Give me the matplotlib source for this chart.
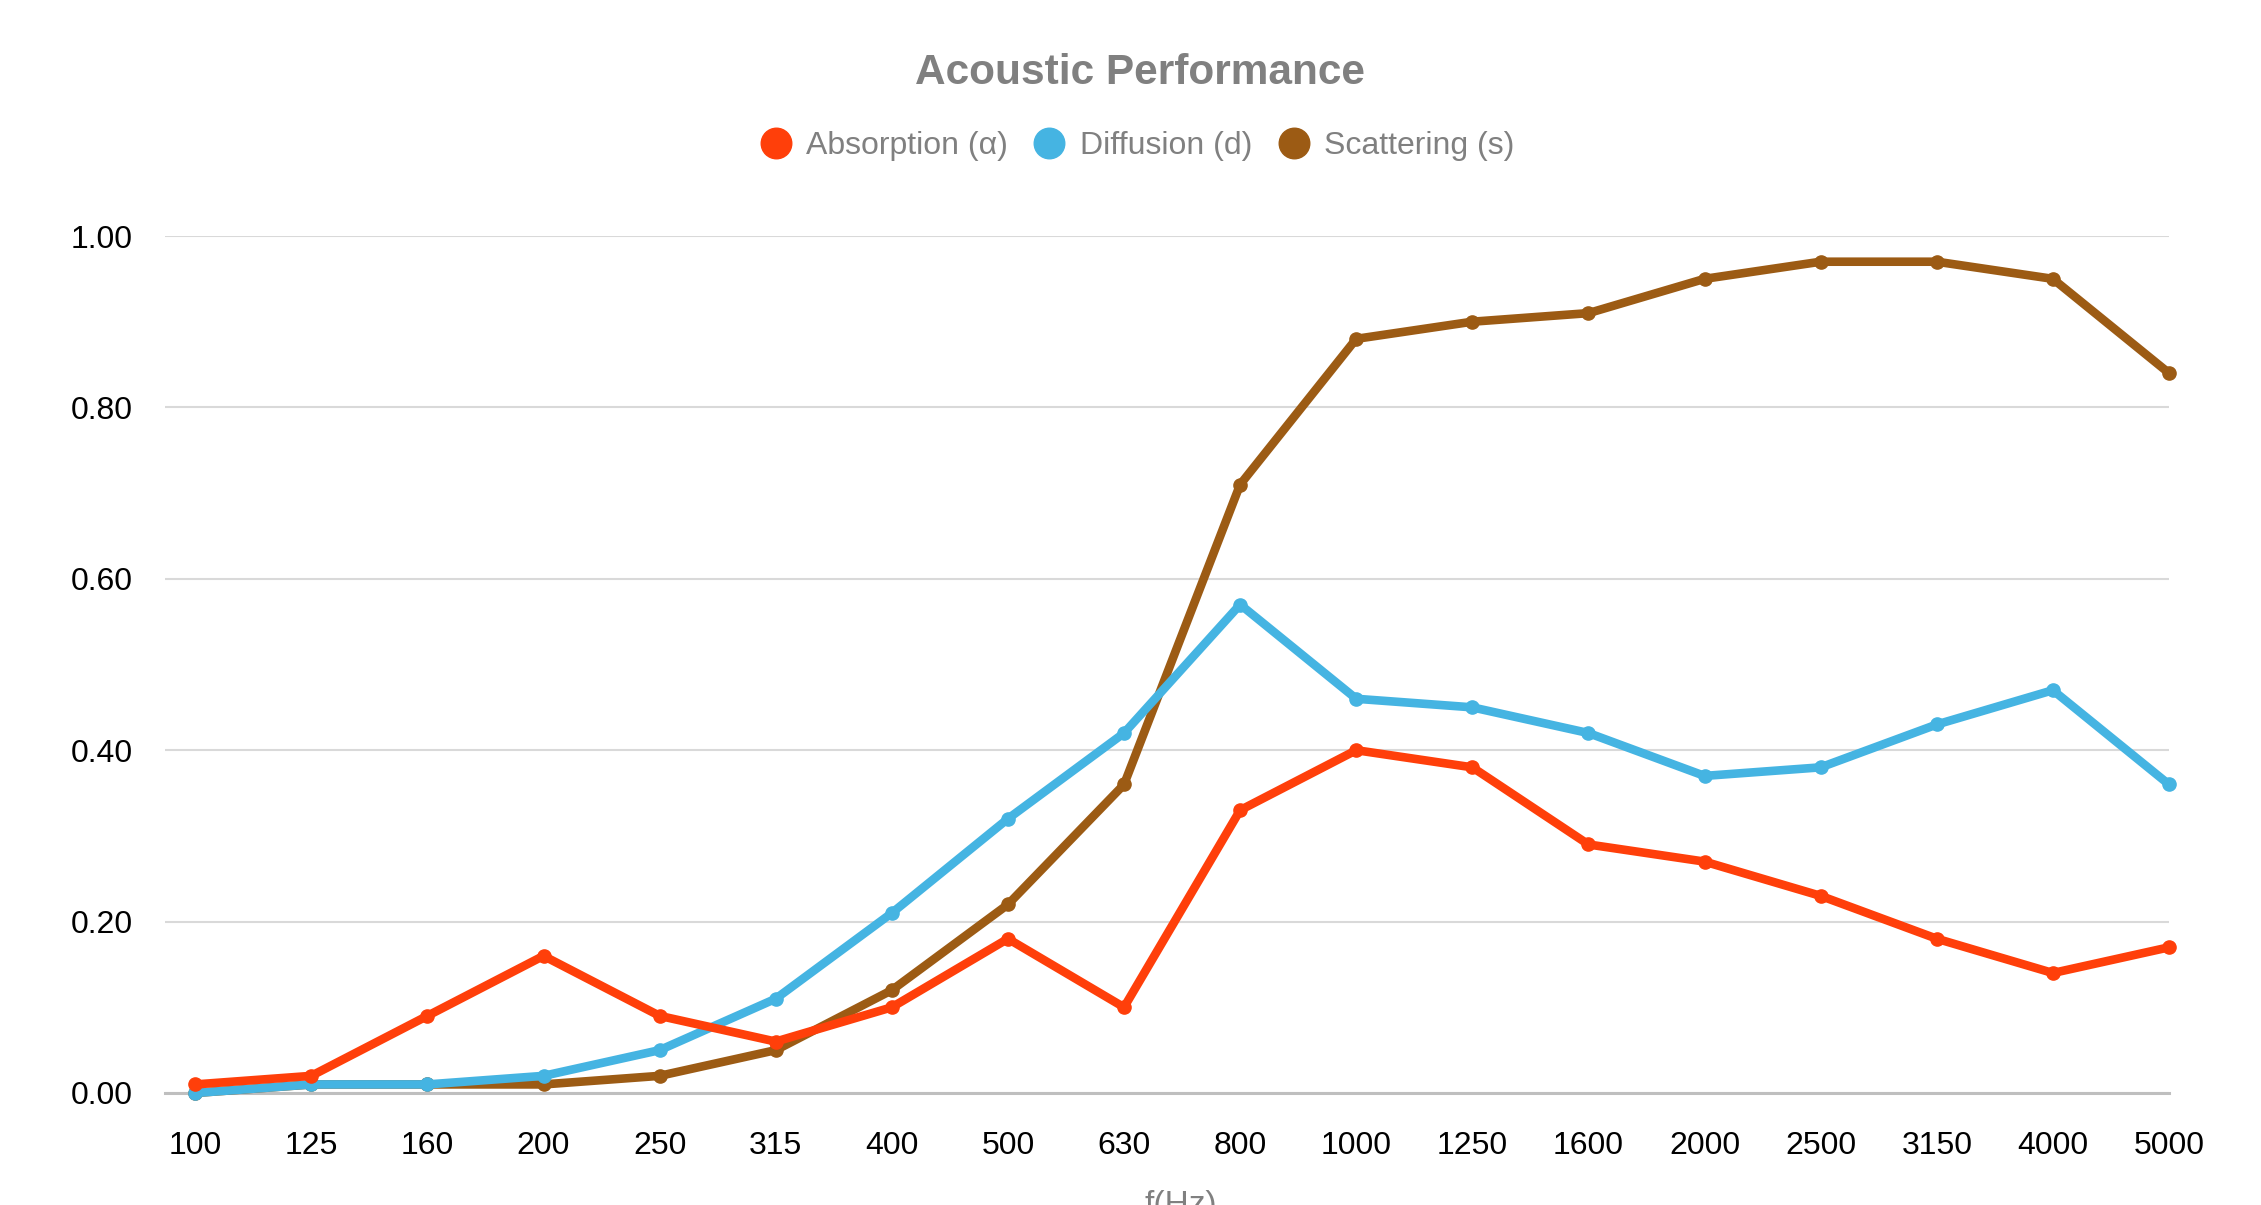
import matplotlib
matplotlib.use("Agg")
import matplotlib.pyplot as plt
from matplotlib.lines import Line2D

plt.rcParams['font.family'] = ['Liberation Sans', 'DejaVu Sans']

freqs = ["100", "125", "160", "200", "250", "315", "400", "500", "630", "800",
         "1000", "1250", "1600", "2000", "2500", "3150", "4000", "5000"]
absorption = [0.01, 0.02, 0.09, 0.16, 0.09, 0.06, 0.10, 0.18, 0.10, 0.33,
              0.40, 0.38, 0.29, 0.27, 0.23, 0.18, 0.14, 0.17]
diffusion = [0.00, 0.01, 0.01, 0.02, 0.05, 0.11, 0.21, 0.32, 0.42, 0.57,
             0.46, 0.45, 0.42, 0.37, 0.38, 0.43, 0.47, 0.36]
scattering = [0.00, 0.01, 0.01, 0.01, 0.02, 0.05, 0.12, 0.22, 0.36, 0.71,
              0.88, 0.90, 0.91, 0.95, 0.97, 0.97, 0.95, 0.84]
yticks = [0.0, 0.2, 0.4, 0.6, 0.8, 1.0]

names = ["Absorption (\u03b1)", "Diffusion (d)", "Scattering (s)"]
colors = ["#FF3F0A", "#45B4E2", "#9C5B14"]
series = [absorption, diffusion, scattering]
zorders = [5, 4, 3]

W, H = 2261, 1205
fig = plt.figure(figsize=(W / 100, H / 100), dpi=100)
left, right = 165, 2169
top, bottom = 236, 1093
ax = fig.add_axes([left / W, 1 - bottom / H, (right - left) / W, (bottom - top) / H])

x = list(range(len(freqs)))
for vals, c, z in zip(series, colors, zorders):
    ax.plot(x, vals, color=c, lw=6.2, marker='o', ms=9.5, mec=c, mfc=c,
            solid_joinstyle='round', solid_capstyle='round', zorder=z, clip_on=False)

ax.set_xlim(-0.26, len(freqs) - 1)
ax.set_ylim(0, 1.0)
ax.set_xticks(x)
ax.set_xticklabels(freqs)
ax.set_yticks(yticks)
ax.set_yticklabels([f"{v:.2f}" for v in yticks])
ax.tick_params(axis='both', length=0, labelsize=23, colors='black')
ax.tick_params(axis='y', pad=23)
ax.tick_params(axis='x', pad=27)

for s in ['top', 'right', 'left']:
    ax.spines[s].set_visible(False)
ax.spines['bottom'].set_color('#BFBFBF')
ax.spines['bottom'].set_linewidth(2.2)
ax.spines['bottom'].set_zorder(2)
ax.grid(axis='y', color='#D9D9D9', lw=1.5, zorder=0)
ax.set_axisbelow(True)

fig.text(1140 / W, 1 - 73 / H, "Acoustic Performance", ha='center', va='center',
         fontsize=30.5, fontweight='bold', color='#808080')

handles = [Line2D([], [], ls='none', marker='o', ms=22, mfc=c, mec=c) for c in colors]
fig.legend(handles, names, loc='center', bbox_to_anchor=(1137 / W, 1 - 146 / H),
           ncol=3, frameon=False, fontsize=23, labelcolor='#808080',
           handlelength=1.0, handletextpad=0.45, columnspacing=0.8,
           borderpad=0, borderaxespad=0)

fig.text(1181 / W, 1 - 1190 / H, "f(Hz)", ha='center', va='top',
         fontsize=24, color='#808080')

fig.savefig("out.png", dpi=100)
